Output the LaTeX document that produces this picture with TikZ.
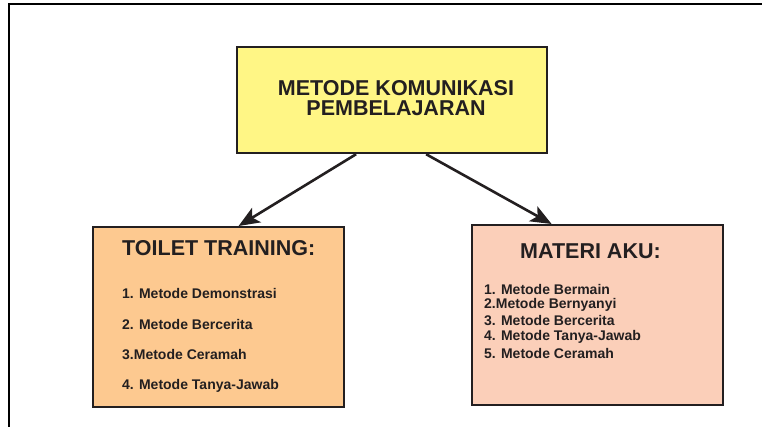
\documentclass[tikz,border=0pt]{standalone}
\usepackage{fontspec}
\setmainfont{Liberation Sans}
\usetikzlibrary{arrows.meta}
\definecolor{kuning}{HTML}{FFF685}
\definecolor{oranye}{HTML}{FDC990}
\definecolor{merahmuda}{HTML}{FBCFB9}
\definecolor{garis}{HTML}{231F20}
\tikzset{
    kotak/.style={draw=garis, line width=2.2pt, inner sep=0pt, anchor=north west},
    judul/.style={font=\fontsize{21.5}{20.5}\selectfont\bfseries, text=garis, inner xsep=0pt, anchor=west},
    isi/.style={font=\fontsize{14}{16}\selectfont\bfseries, text=garis, inner xsep=0pt, anchor=west},
    panah/.style={line width=2.6pt, draw=garis, -{Stealth[length=21pt,width=17pt,inset=5pt]}}
}
\begin{document}
\begin{tikzpicture}[x=1pt,y=-1pt]
    \useasboundingbox (0,0) rectangle (762,427);
    \draw[line width=2.5pt] (9,427) -- (9,4) -- (762,4);
    % kotak
    \node[kotak, fill=kuning, minimum width=310pt, minimum height=106pt] (metode) at (236,46) {};
    \node[kotak, fill=oranye, minimum width=251pt, minimum height=180pt] (toilet) at (92,226) {};
    \node[kotak, fill=merahmuda, minimum width=251pt, minimum height=180pt] (materi) at (471,224) {};
    % teks
    \node[judul, anchor=center, align=center] (metodejudul) at (396,98) {METODE KOMUNIKASI\\PEMBELAJARAN};
    \node[judul] (toiletjudul) at (122,248) {TOILET TRAINING:};
    \node[judul] (materijudul) at (520,251) {MATERI AKU:};
    \foreach \teks [count=\i] in {1. Metode Demonstrasi, 2. Metode Bercerita, 3.Metode Ceramah, 4. Metode Tanya-Jawab} {
        \node[isi] (toilet\i) at (122,262+31*\i) {\teks};
    }
    \foreach \teks [count=\i] in {1. Metode Bermain, 2.Metode Bernyanyi, 3. Metode Bercerita, 4. Metode Tanya-Jawab, 5. Metode Ceramah} {
        \node[isi] (materi\i) at (484,273+16*\i) {\teks};
    }
    % panah
    \draw[panah] ([xshift=-36pt]metode.south) -- ([xshift=20pt]toilet.north);
    \draw[panah] ([xshift=34pt]metode.south) -- ([xshift=-46pt]materi.north);
\end{tikzpicture}
\end{document}
